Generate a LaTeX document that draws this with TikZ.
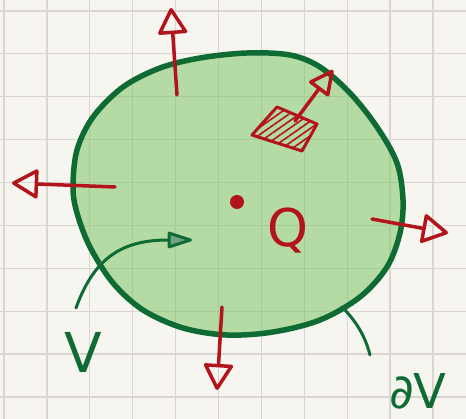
\documentclass[tikz,border=0pt]{standalone}
\usepackage{fontspec}
\setmainfont{DejaVu Sans}
\usepackage{xcolor}
\usepackage{tikz}
\usetikzlibrary{arrows.meta,patterns.meta}

\definecolor{paper}{RGB}{247,245,240}
\definecolor{gridc}{RGB}{217,213,208}
\definecolor{dkgreen}{RGB}{14,107,51}
\definecolor{ltgreen}{RGB}{117,195,92}
\definecolor{pen}{RGB}{179,20,28}

\begin{document}
\begin{tikzpicture}[
    x=1pt, y=-1pt,
    gridline/.style={draw=gridc, line width=1.3pt},
    rim/.style={draw=dkgreen, line width=5.5pt, fill=ltgreen, fill opacity=0.5,
        draw opacity=1, line join=round},
    normal/.style={draw=pen, line width=3.5pt, line cap=round,
        -{Triangle[open, round, length=28pt, width=31pt]}},
    pointer/.style={draw=dkgreen, line width=3pt, line cap=round},
    lab/.style={text=dkgreen, anchor=base, inner sep=0pt},
]
    % ---------- paper and grid ----------
    \useasboundingbox (0,0) rectangle (466,419);
    \fill[paper] (0,0) rectangle (466,419);
    \foreach \x in {4.0,46.9,...,434} {
        \draw[gridline] (\x,0) -- (\x,419);
    }
    \foreach \y in {10.9,53.8,...,398} {
        \draw[gridline] (0,\y) -- (466,\y);
    }

    % ---------- region V ----------
    \draw[rim] plot[smooth cycle, tension=0.55] coordinates {
        (73,187) (77,150) (93,117) (123,87) (160,68) (200,58) (247,53)
        (290,55) (320,67) (350,93) (377,127) (397,163) (403,200) (400,233)
        (387,267) (360,297) (320,320) (273,332) (227,335) (183,328)
        (143,310) (113,283) (90,247) (77,213)};

    % ---------- outward normals ----------
    \coordinate (topA) at (177,95);   \coordinate (topB) at (171,8);
    \coordinate (lftA) at (115,187);  \coordinate (lftB) at (12,183);
    \coordinate (rgtA) at (372,219);  \coordinate (rgtB) at (448,233);
    \coordinate (botA) at (222,307);  \coordinate (botB) at (217,390);
    \draw[normal] (topA) -- (topB);
    \draw[normal] (lftA) -- (lftB);
    \draw[normal] (rgtA) -- (rgtB);
    \draw[normal] (botA) -- (botB);

    % ---------- surface element ----------
    \draw[draw=pen, line width=3pt, line join=round,
        pattern={Lines[angle=35, distance=6pt, line width=1.6pt]},
        pattern color=pen] (252,135) -- (277,107) -- (317,124) -- (302,151) -- cycle;
    \coordinate (dsA) at (295,121);   \coordinate (dsB) at (333,70);
    \draw[normal, -{Triangle[open, round, length=27pt, width=26pt]}] (dsA) -- (dsB);

    % ---------- charge ----------
    \fill[pen] (237,202) circle (7);
    \node[text=pen, anchor=base, inner sep=0pt, font=\fontsize{52}{52}\selectfont]
        (charge) at (288,247) {Q};

    % ---------- labels ----------
    \coordinate (vA) at (76,308);     \coordinate (vB) at (192,240);
    \draw[pointer, -{Triangle[round, length=28pt, width=17pt, fill=dkgreen!60]}]
        (vA) .. controls (95,255) and (125,240) .. (vB);
    \node[lab, font=\fontsize{55}{55}\selectfont] (vol) at (83,373) {V};

    \coordinate (sA) at (342,307);    \coordinate (sB) at (370,355);
    \draw[pointer] (sA) .. controls (355,320) and (365,335) .. (sB);
    \node[lab, font=\fontsize{48}{48}\selectfont] (surf) at (418,409) {∂V};
\end{tikzpicture}
\end{document}
